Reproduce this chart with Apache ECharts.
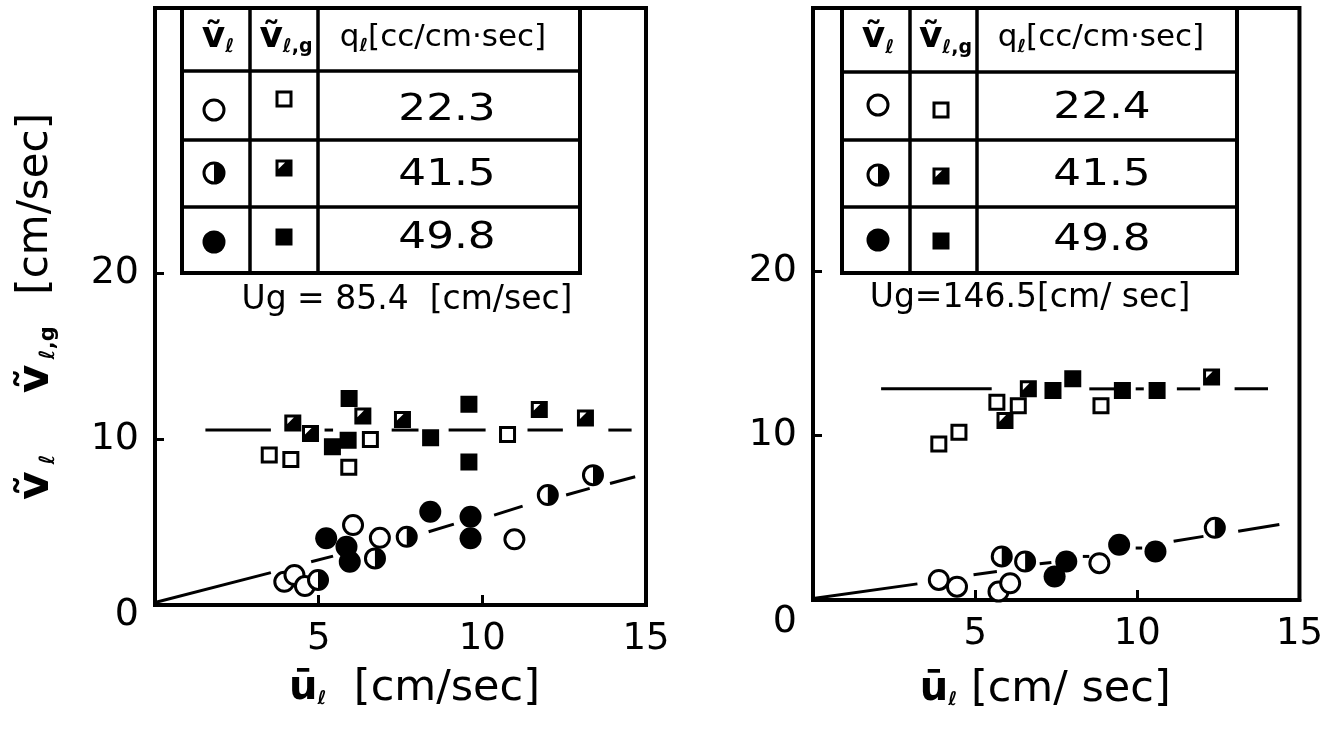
<!DOCTYPE html>
<html>
<head>
<meta charset="utf-8">
<script src="https://cdn.jsdelivr.net/npm/echarts@6/dist/echarts.min.js"></script>
<style>
  html, body { margin: 0; padding: 0; background: #fff; }
  #chart { width: 1326px; height: 730px; }
</style>
</head>
<body>
<div id="chart"></div>
<script>
// ---- data -------------------------------------------------------------
const gasVelocities = ['85.4', '146.5'];           // Ug [cm/sec] for left / right panel
const flowRatesLeft = ['22.3', '41.5', '49.8'];     // q_l [cc/cm·sec]
const flowRatesRight = ['22.4', '41.5', '49.8'];
const xTickLabels = [5, 10, 15];
const yTickLabels = [0, 10, 20];

// Left panel (Ug = 85.4): [u_l, velocity]
const leftOpenCircles   = [[6.05, 4.82], [6.87, 4.05], [10.98, 3.96], [3.95, 1.40], [4.26, 1.81], [4.58, 1.14]];
const leftHalfCircles   = [[4.98, 1.51], [6.72, 2.81], [7.69, 4.11], [12.00, 6.63], [13.38, 7.83]];
const leftFilledCircles = [[5.23, 4.02], [5.85, 3.51], [5.95, 2.61], [8.41, 5.62], [9.64, 5.32], [9.64, 4.02]];
const leftOpenSquares   = [[3.49, 9.04], [4.15, 8.78], [5.92, 8.30], [6.58, 9.98], [10.77, 10.28]];
const leftHalfSquares   = [[4.21, 10.98], [4.75, 10.34], [6.35, 11.39], [7.56, 11.19], [11.74, 11.79], [13.15, 11.28]];
const leftFilledSquares = [[5.93, 12.45], [5.90, 9.94], [5.42, 9.54], [8.42, 10.08], [9.59, 12.11], [9.59, 8.63]];
// visible pieces of the fitted lines: [x0, y0, x1, y1]
const leftSquareFit = [[1.54, 10.55, 3.54, 10.55], [5.18, 10.55, 5.44, 10.55], [7.23, 10.55, 8.05, 10.55],
                       [8.97, 10.55, 10.10, 10.55], [11.38, 10.55, 12.46, 10.55], [13.85, 10.55, 14.56, 10.55]];
const leftCircleFit = [[0.00, 0.15, 3.54, 1.95], [4.77, 2.61, 5.44, 2.95], [8.36, 4.42, 9.13, 4.88],
                       [10.36, 5.42, 11.23, 5.96], [12.56, 6.63, 13.28, 7.03], [13.90, 7.33, 14.67, 7.73]];

// Right panel (Ug = 146.5)
const rightOpenCircles   = [[3.88, 1.22], [4.44, 0.81], [5.72, 0.51], [6.08, 1.02], [8.83, 2.24]];
const rightHalfCircles   = [[5.82, 2.65], [6.54, 2.34], [12.39, 4.39]];
const rightFilledCircles = [[7.45, 1.43], [7.81, 2.34], [9.44, 3.36], [10.56, 2.95]];
const rightOpenSquares   = [[3.88, 9.48], [4.50, 10.20], [5.67, 12.03], [6.33, 11.82], [8.88, 11.82]];
const rightHalfSquares   = [[5.92, 10.91], [6.64, 12.84], [12.29, 13.56]];
const rightFilledSquares = [[7.40, 12.74], [8.01, 13.46], [9.54, 12.74], [10.61, 12.74]];
const rightSquareFit = [[2.10, 12.84, 5.51, 12.84], [8.52, 12.84, 9.29, 12.84], [9.95, 12.84, 10.20, 12.84],
                        [11.22, 12.84, 11.94, 12.84], [13.00, 12.84, 14.03, 12.84]];
const rightCircleFit = [[0.06, 0.10, 3.22, 0.98], [4.95, 1.53, 5.67, 1.73], [6.99, 2.20, 7.35, 2.28],
                        [8.32, 2.65, 8.52, 2.65], [9.95, 3.16, 10.15, 3.16], [11.12, 3.57, 12.04, 3.87],
                        [13.11, 4.18, 14.38, 4.59]];

// ---- drawing helpers --------------------------------------------------
const FONT = "'DejaVu Sans', sans-serif";
const INK = '#000';

// marker kinds: co/ch/cf = open/half/filled circle, so/sh/sf = open/half/filled square
function marker(kind, cx, cy, big, z) {
  const lw = 3;
  const r = big ? 10 : 9.5;
  const h = big ? 8 : 7;
  let els;
  switch (kind) {
    case 'co':
      els = [{ type: 'circle', shape: { cx, cy, r }, style: { fill: '#fff', stroke: INK, lineWidth: lw } }];
      break;
    case 'ch':
      els = [
        { type: 'circle', shape: { cx, cy, r }, style: { fill: '#fff', stroke: INK, lineWidth: lw } },
        { type: 'sector', shape: { cx, cy, r0: 0, r: r, startAngle: -Math.PI / 2, endAngle: Math.PI / 2, clockwise: true },
          style: { fill: INK } }
      ];
      break;
    case 'cf':
      els = [{ type: 'circle', shape: { cx, cy, r: r + 1.5 }, style: { fill: INK } }];
      break;
    case 'so':
      els = [{ type: 'rect', shape: { x: cx - h, y: cy - h, width: 2 * h, height: 2 * h },
               style: { fill: '#fff', stroke: INK, lineWidth: lw } }];
      break;
    case 'sh':
      els = [
        { type: 'rect', shape: { x: cx - h, y: cy - h, width: 2 * h, height: 2 * h },
          style: { fill: INK, stroke: INK, lineWidth: lw } },
        { type: 'polygon', shape: { points: [[cx - h + 1.5, cy - h + 1.5], [cx + h * 0.15, cy - h + 1.5], [cx - h + 1.5, cy + h * 0.15]] },
          style: { fill: '#fff' } }
      ];
      break;
    default:
      els = [{ type: 'rect', shape: { x: cx - h, y: cy - h, width: 2 * h, height: 2 * h },
               style: { fill: INK, stroke: INK, lineWidth: lw } }];
  }
  if (z !== undefined) els.forEach((e, i) => { e.z = z + i * 0.1; });
  return els;
}

function markerSeries(grid, data, kind) {
  return {
    type: 'custom', xAxisIndex: grid, yAxisIndex: grid, data, z: 3, clip: false,
    renderItem: (params, api) => {
      const p = api.coord([api.value(0), api.value(1)]);
      return { type: 'group', children: marker(kind, p[0], p[1], false) };
    }
  };
}

function fitSeries(grid, data) {
  return {
    type: 'custom', xAxisIndex: grid, yAxisIndex: grid, data, z: 2,
    dimensions: ['x0', 'y0', 'x1', 'y1'],
    encode: { x: [0, 2], y: [1, 3] },
    renderItem: (params, api) => {
      const a = api.coord([api.value(0), api.value(1)]);
      const b = api.coord([api.value(2), api.value(3)]);
      return { type: 'line', shape: { x1: a[0], y1: a[1], x2: b[0], y2: b[1] },
               style: { stroke: INK, lineWidth: 3 } };
    }
  };
}

const subRich = {
  v: { fontFamily: FONT, fontSize: 36, fontWeight: 'bold', color: INK },
  s: { fontFamily: FONT, fontSize: 19, fontWeight: 'bold', color: INK, padding: [20, 0, 0, 0] },
  q: { fontFamily: FONT, fontSize: 31, color: INK },
  qs: { fontFamily: FONT, fontSize: 18, fontWeight: 'bold', color: INK, padding: [18, 0, 0, 0] }
};

function text(x, y, str, size, sx) {
  return {
    type: 'text', x, y, z: 12, scaleX: sx || 1,
    style: { text: str, fontFamily: FONT, fontSize: size, fill: INK,
             align: 'center', verticalAlign: 'middle', textAlign: 'center', textVerticalAlign: 'middle',
             rich: subRich }
  };
}

function line(x1, y1, x2, y2, w) {
  return { type: 'line', z: 10, shape: { x1, y1, x2, y2 }, style: { stroke: INK, lineWidth: w || 3.5 } };
}

// legend table drawn as a small grid of cells
function legendTable(t, flows) {
  const [top, r1, r2, r3, bottom] = t.rows;
  const els = [
    { type: 'rect', z: 9, shape: { x: t.x0, y: top, width: t.x1 - t.x0, height: bottom - top },
      style: { fill: '#fff', stroke: INK, lineWidth: 4 } },
    line(t.c1, top, t.c1, bottom), line(t.c2, top, t.c2, bottom),
    line(t.x0, r1, t.x1, r1), line(t.x0, r2, t.x1, r2), line(t.x0, r3, t.x1, r3),
    text((t.x0 + t.c1) / 2 + 2, (top + r1) / 2 - 2, '{v|ṽ}{s|ℓ}', 36),
    text((t.c1 + t.c2) / 2 + 2, (top + r1) / 2 - 2, '{v|ṽ}{s|ℓ,g}', 36),
    text((t.c2 + t.x1) / 2 - 6, (top + r1) / 2 - 2, '{q|q}{qs|ℓ}{q|[cc/cm·sec]}', 31)
  ];
  const kindsC = ['co', 'ch', 'cf'];
  const kindsS = ['so', 'sh', 'sf'];
  for (let i = 0; i < 3; i++) {
    marker(kindsC[i], t.cmx, t.cy[i], true, 11).forEach(e => els.push(e));
    marker(kindsS[i], t.smx, t.sy[i], false, 11).forEach(e => els.push(e));
    els.push(text(t.nx, t.ny[i], flows[i], 38, 1.15));
  }
  return els;
}

// ---- axes -------------------------------------------------------------
function xAxis(grid, nameGap, nameShift, name) {
  return {
    type: 'value', gridIndex: grid, min: 0, max: 15, interval: 5,
    axisLine: { show: true, lineStyle: { color: INK, width: 4 } },
    axisTick: { show: true, inside: true, length: 10, customValues: [5, 10], lineStyle: { color: INK, width: 3 } },
    axisLabel: { customValues: xTickLabels, color: INK, fontFamily: FONT, fontSize: 37, margin: 16 },
    splitLine: { show: false },
    name: name, nameLocation: 'middle', nameGap: nameGap,
    nameTextStyle: { color: INK, fontFamily: FONT, fontSize: 43, padding: nameShift,
      rich: { u: { fontFamily: FONT, fontSize: 40, fontWeight: 'bold', color: INK },
              s: { fontFamily: FONT, fontSize: 19, fontWeight: 'bold', color: INK, padding: [22, 0, 0, 0] },
              b: { fontFamily: FONT, fontSize: 43, color: INK } } }
  };
}

function yAxis(grid, zeroPad, withName) {
  const ax = {
    type: 'value', gridIndex: grid, min: 0, max: 36, interval: 10,
    axisLine: { show: true, lineStyle: { color: INK, width: 4 } },
    axisTick: { show: true, inside: true, length: 9, customValues: [10, 20], lineStyle: { color: INK, width: 3 } },
    axisLabel: {
      customValues: yTickLabels, color: INK, fontFamily: FONT, fontSize: 38, margin: 16,
      formatter: v => (v === 0 ? '{z|0}' : String(v)),
      rich: { z: { fontFamily: FONT, fontSize: 38, color: INK, padding: [zeroPad, 0, 0, 0] } }
    },
    splitLine: { show: false }
  };
  if (withName) {
    ax.name = '{v|ṽ}{s1|ℓ}{g| }{v|ṽ}{s2|ℓ,g}{h| }{b|[cm/sec]}';
    ax.nameLocation = 'middle';
    ax.nameRotate = 90;
    ax.nameGap = 96;
    ax.nameTextStyle = { rich: {
      v: { fontFamily: FONT, fontSize: 44, fontWeight: 'bold', color: INK },
      s1: { fontFamily: FONT, fontSize: 21, fontWeight: 'bold', color: INK, padding: [24, 0, 0, 2], width: 20 },
      s2: { fontFamily: FONT, fontSize: 21, fontWeight: 'bold', color: INK, padding: [24, 0, 0, 2], width: 40 },
      g: { fontFamily: FONT, fontSize: 20, width: 56 },
      h: { fontFamily: FONT, fontSize: 20, width: 28 },
      b: { fontFamily: FONT, fontSize: 42, color: INK } } };
  }
  return ax;
}

const xName = '{u|ū}{s|ℓ}{b|  [cm/sec]}';
const xNameR = '{u|ū}{s|ℓ}{b| [cm/ sec]}';

const option = {
  backgroundColor: '#fff',
  animation: false,
  grid: [
    { left: 155, top: 8, width: 491, height: 597, show: true, borderColor: INK, borderWidth: 4 },
    { left: 813, top: 8, width: 489, height: 592, show: true, borderColor: INK, borderWidth: 4 }
  ],
  xAxis: [xAxis(0, 62, [0, 0, 0, 28], xName), xAxis(1, 68, [0, 22, 0, 0], xNameR)],
  yAxis: [yAxis(0, 20, true), yAxis(1, 44, false)],
  series: [
    fitSeries(0, leftSquareFit), fitSeries(0, leftCircleFit),
    markerSeries(0, leftOpenSquares, 'so'), markerSeries(0, leftHalfSquares, 'sh'), markerSeries(0, leftFilledSquares, 'sf'),
    markerSeries(0, leftOpenCircles, 'co'), markerSeries(0, leftHalfCircles, 'ch'), markerSeries(0, leftFilledCircles, 'cf'),
    fitSeries(1, rightSquareFit), fitSeries(1, rightCircleFit),
    markerSeries(1, rightOpenSquares, 'so'), markerSeries(1, rightHalfSquares, 'sh'), markerSeries(1, rightFilledSquares, 'sf'),
    markerSeries(1, rightOpenCircles, 'co'), markerSeries(1, rightHalfCircles, 'ch'), markerSeries(1, rightFilledCircles, 'cf')
  ],
  graphic: [].concat(
    legendTable({ x0: 182, x1: 580, c1: 250, c2: 318, rows: [8, 71, 140, 207, 273],
                  cmx: 214, cy: [110, 173, 242], smx: 284, sy: [99, 168, 237], nx: 447, ny: [110, 175, 238] },
                flowRatesLeft),
    legendTable({ x0: 842, x1: 1237, c1: 910, c2: 977, rows: [8, 72, 140, 207, 273],
                  cmx: 878, cy: [105, 175, 240], smx: 941, sy: [110, 176, 241], nx: 1102, ny: [108, 175, 240] },
                flowRatesRight),
    [
      text(407, 300, 'Ug = ' + gasVelocities[0] + '  [cm/sec]', 33),
      text(1030, 298, 'Ug=' + gasVelocities[1] + '[cm/ sec]', 33)
    ]
  )
};

const chart = echarts.init(document.getElementById('chart'), null, { renderer: 'canvas' });
chart.setOption(option);
</script>
</body>
</html>
